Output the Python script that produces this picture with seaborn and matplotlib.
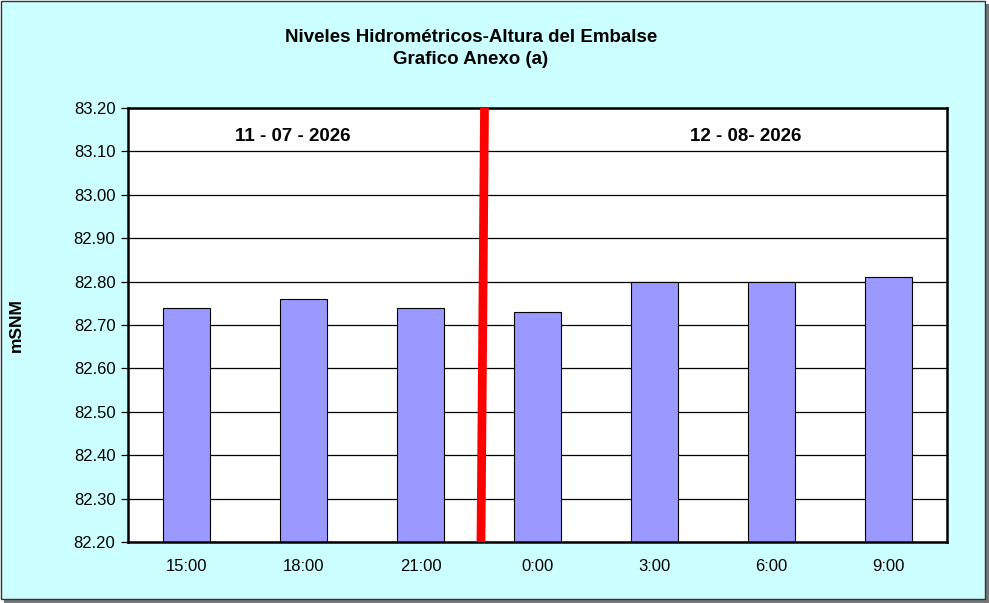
import matplotlib
matplotlib.use("Agg")
import matplotlib.pyplot as plt
import seaborn as sns
import pandas as pd
from matplotlib.patches import Rectangle

horas = ["15:00", "18:00", "21:00", "0:00", "3:00", "6:00", "9:00"]
niveles = [82.74, 82.76, 82.74, 82.73, 82.80, 82.80, 82.81]
y_ticks = [82.20, 82.30, 82.40, 82.50, 82.60, 82.70, 82.80, 82.90, 83.00, 83.10, 83.20]

df = pd.DataFrame({"hora": horas, "nivel": niveles})

sns.set_style("white")
plt.rcParams['font.family'] = ['Liberation Sans', 'DejaVu Sans']
plt.rcParams['text.color'] = 'black'
plt.rcParams['xtick.color'] = 'black'
plt.rcParams['ytick.color'] = 'black'
plt.rcParams['axes.labelcolor'] = 'black'

fig = plt.figure(figsize=(9.89, 6.03), dpi=100, facecolor="#CCFFFF")
ax = fig.add_axes([128 / 989, 1 - 542 / 603, 819 / 989, 434 / 603])
ax.set_facecolor("white")

# grid lines behind bars
for v in y_ticks:
    ax.axhline(v, color="black", lw=0.9, zorder=0)

sns.barplot(data=df, x="hora", y="nivel", ax=ax, color="#9999FF",
            saturation=1, width=0.4, edgecolor="black", linewidth=0.8, zorder=2)

ax.set_ylim(82.20, 83.20)
ax.set_xlim(-0.5, 6.5)
ax.set_yticks(y_ticks)
ax.set_yticklabels([f"{v:.2f}" for v in y_ticks], fontsize=12)
ax.set_xticks(range(len(horas)))
ax.set_xticklabels(horas, fontsize=12)
ax.tick_params(axis="x", length=0, pad=12)
ax.set_xticks([k - 0.5 for k in range(len(horas) + 1)], minor=True)
ax.tick_params(axis="x", which="minor", length=5, width=0.9, color="black")
ax.tick_params(axis="y", length=5, width=0.9, color="black", left=True, pad=4)
ax.set_xlabel("")
ax.set_ylabel("mSNM", fontsize=12.5, fontweight="bold", labelpad=36)

for s in ax.spines.values():
    s.set_visible(True)
    s.set_color("black")
    s.set_linewidth(1.8)

# separador de dias
ax.plot([2.547, 2.517], [83.20, 82.20], color="red", lw=6.3, zorder=3, clip_on=False,
        solid_capstyle="butt")

ax.text(0.91, 83.135, "11 - 07 - 2026", ha="center", va="center", fontsize=13.5, fontweight="bold")
ax.text(4.78, 83.135, "12 - 08- 2026", ha="center", va="center", fontsize=13.5, fontweight="bold")

fig.text(471 / 989, 1 - 38 / 603, "Niveles Hidrométricos-Altura del Embalse", ha="center", va="center",
         fontsize=13.5, fontweight="bold")
fig.text(471 / 989, 1 - 60 / 603, "Grafico Anexo (a)", ha="center", va="center",
         fontsize=13.5, fontweight="bold")

# marco exterior con sombra
fig.patches.append(Rectangle((4 / 989, 0), 985 / 989, 599 / 603, transform=fig.transFigure,
                             facecolor="#777777", edgecolor="none", zorder=-2))
fig.patches.append(Rectangle((0.5 / 989, 4 / 603), 984 / 989, 598 / 603, transform=fig.transFigure,
                             facecolor="#CCFFFF", edgecolor="#333333", lw=1, zorder=-1))

fig.savefig("out.png", dpi=100, facecolor="white")
